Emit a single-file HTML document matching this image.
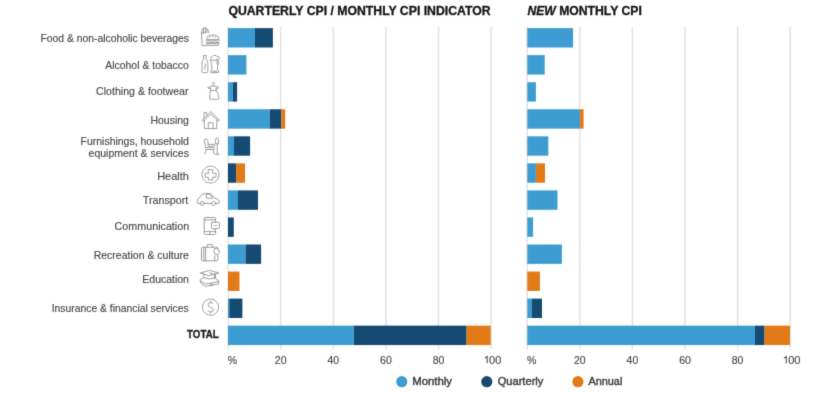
<!DOCTYPE html>
<html><head><meta charset="utf-8">
<style>
html,body{margin:0;padding:0;background:#fff;width:832px;height:393px;overflow:hidden}
svg{display:block}
text{font-family:"Liberation Sans",sans-serif}
.lab{font-size:11px;fill:#474747;stroke:#474747;stroke-width:0.15px;text-anchor:end}
.tick{font-size:10.5px;fill:#474747;stroke:#474747;stroke-width:0.15px}
.ttl{font-size:12.2px;font-weight:bold;fill:#141414;stroke:#141414;stroke-width:0.3px}
.leg{font-size:10px;font-weight:normal;fill:#3d3d3d;stroke:#3d3d3d;stroke-width:0.4px}
.ic{fill:none;stroke:#8e8e8e;stroke-width:0.85;stroke-linejoin:round;stroke-linecap:round}
</style></head><body>
<svg width="832" height="393" viewBox="0 0 832 393">
<defs><filter id="bl" x="0" y="0" width="832" height="393" filterUnits="userSpaceOnUse" color-interpolation-filters="sRGB"><feConvolveMatrix order="3" kernelMatrix="0.0144 0.0912 0.0144 0.0912 0.5776 0.0912 0.0144 0.0912 0.0144" edgeMode="duplicate"/></filter></defs>
<g filter="url(#bl)">
<rect width="832" height="393" fill="#fff"/>
<text x="228.41" y="14.9" class="ttl" textLength="262.18" lengthAdjust="spacingAndGlyphs">QUARTERLY CPI / MONTHLY CPI INDICATOR</text>
<text x="527.40" y="14.9" class="ttl" textLength="114.40" lengthAdjust="spacingAndGlyphs"><tspan font-style="italic">NEW</tspan> MONTHLY CPI</text>
<rect x="227.35" y="26.8" width="1.5" height="322.8" fill="#e2e2e2"/>
<rect x="279.95" y="26.8" width="1.5" height="322.8" fill="#e2e2e2"/>
<rect x="332.55" y="26.8" width="1.5" height="322.8" fill="#e2e2e2"/>
<rect x="385.15" y="26.8" width="1.5" height="322.8" fill="#e2e2e2"/>
<rect x="437.75" y="26.8" width="1.5" height="322.8" fill="#e2e2e2"/>
<rect x="490.35" y="26.8" width="1.5" height="322.8" fill="#e2e2e2"/>
<rect x="526.45" y="26.8" width="1.5" height="322.8" fill="#e2e2e2"/>
<rect x="579.05" y="26.8" width="1.5" height="322.8" fill="#e2e2e2"/>
<rect x="631.65" y="26.8" width="1.5" height="322.8" fill="#e2e2e2"/>
<rect x="684.25" y="26.8" width="1.5" height="322.8" fill="#e2e2e2"/>
<rect x="736.85" y="26.8" width="1.5" height="322.8" fill="#e2e2e2"/>
<rect x="789.45" y="26.8" width="1.5" height="322.8" fill="#e2e2e2"/>
<rect x="228.00" y="28.10" width="26.90" height="19.4" fill="#3d9cd2"/>
<rect x="254.90" y="28.10" width="18.00" height="19.4" fill="#154a72"/>
<rect x="527.30" y="28.10" width="45.80" height="19.4" fill="#3d9cd2"/>
<rect x="228.00" y="55.15" width="18.40" height="19.4" fill="#3d9cd2"/>
<rect x="527.30" y="55.15" width="17.40" height="19.4" fill="#3d9cd2"/>
<rect x="228.00" y="82.20" width="4.80" height="19.4" fill="#3d9cd2"/>
<rect x="232.80" y="82.20" width="4.30" height="19.4" fill="#154a72"/>
<rect x="527.30" y="82.20" width="8.60" height="19.4" fill="#3d9cd2"/>
<rect x="228.00" y="109.25" width="41.80" height="19.4" fill="#3d9cd2"/>
<rect x="269.80" y="109.25" width="11.50" height="19.4" fill="#154a72"/>
<rect x="281.30" y="109.25" width="3.90" height="19.4" fill="#e07b18"/>
<rect x="527.30" y="109.25" width="52.60" height="19.4" fill="#3d9cd2"/>
<rect x="579.90" y="109.25" width="3.70" height="19.4" fill="#e07b18"/>
<rect x="228.00" y="136.30" width="6.00" height="19.4" fill="#3d9cd2"/>
<rect x="234.00" y="136.30" width="16.10" height="19.4" fill="#154a72"/>
<rect x="527.30" y="136.30" width="21.00" height="19.4" fill="#3d9cd2"/>
<rect x="228.00" y="163.35" width="8.10" height="19.4" fill="#154a72"/>
<rect x="236.10" y="163.35" width="8.90" height="19.4" fill="#e07b18"/>
<rect x="527.30" y="163.35" width="8.60" height="19.4" fill="#3d9cd2"/>
<rect x="535.90" y="163.35" width="9.10" height="19.4" fill="#e07b18"/>
<rect x="228.00" y="190.40" width="10.00" height="19.4" fill="#3d9cd2"/>
<rect x="238.00" y="190.40" width="20.00" height="19.4" fill="#154a72"/>
<rect x="527.30" y="190.40" width="30.20" height="19.4" fill="#3d9cd2"/>
<rect x="228.00" y="217.45" width="5.80" height="19.4" fill="#154a72"/>
<rect x="527.30" y="217.45" width="5.80" height="19.4" fill="#3d9cd2"/>
<rect x="228.00" y="244.50" width="17.60" height="19.4" fill="#3d9cd2"/>
<rect x="245.60" y="244.50" width="15.50" height="19.4" fill="#154a72"/>
<rect x="527.30" y="244.50" width="34.60" height="19.4" fill="#3d9cd2"/>
<rect x="228.00" y="271.55" width="11.50" height="19.4" fill="#e07b18"/>
<rect x="527.30" y="271.55" width="12.60" height="19.4" fill="#e07b18"/>
<rect x="228.00" y="298.60" width="1.30" height="19.4" fill="#3d9cd2"/>
<rect x="229.30" y="298.60" width="13.10" height="19.4" fill="#154a72"/>
<rect x="527.30" y="298.60" width="4.70" height="19.4" fill="#3d9cd2"/>
<rect x="532.00" y="298.60" width="10.00" height="19.4" fill="#154a72"/>
<rect x="228.00" y="325.65" width="125.80" height="19.4" fill="#3d9cd2"/>
<rect x="353.80" y="325.65" width="112.80" height="19.4" fill="#154a72"/>
<rect x="466.60" y="325.65" width="24.10" height="19.4" fill="#e07b18"/>
<rect x="527.30" y="325.65" width="227.70" height="19.4" fill="#3d9cd2"/>
<rect x="755.00" y="325.65" width="9.60" height="19.4" fill="#154a72"/>
<rect x="764.60" y="325.65" width="25.40" height="19.4" fill="#e07b18"/>
<text x="188.90" y="42.42" class="lab" textLength="148.45" lengthAdjust="spacingAndGlyphs">Food &amp; non-alcoholic beverages</text>
<text x="188.82" y="68.75" class="lab" textLength="83.56" lengthAdjust="spacingAndGlyphs">Alcohol &amp; tobacco</text>
<text x="188.47" y="95.1" class="lab" textLength="92.36" lengthAdjust="spacingAndGlyphs">Clothing &amp; footwear</text>
<text x="188.89" y="124.3" class="lab" textLength="38.45" lengthAdjust="spacingAndGlyphs">Housing</text>
<text x="188.91" y="144.85" class="lab" textLength="108.39" lengthAdjust="spacingAndGlyphs">Furnishings, household</text>
<text x="188.90" y="156.6" class="lab" textLength="100.33" lengthAdjust="spacingAndGlyphs">equipment &amp; services</text>
<text x="188.97" y="179.85" class="lab" textLength="31.77" lengthAdjust="spacingAndGlyphs">Health</text>
<text x="188.29" y="203.75" class="lab" textLength="45.42" lengthAdjust="spacingAndGlyphs">Transport</text>
<text x="189.15" y="229.5" class="lab" textLength="74.53" lengthAdjust="spacingAndGlyphs">Communication</text>
<text x="188.91" y="259.1" class="lab" textLength="95.23" lengthAdjust="spacingAndGlyphs">Recreation &amp; culture</text>
<text x="188.96" y="283.2" class="lab" textLength="46.60" lengthAdjust="spacingAndGlyphs">Education</text>
<text x="188.57" y="311.95" class="lab" textLength="136.84" lengthAdjust="spacingAndGlyphs">Insurance &amp; financial services</text>
<text x="218.60" y="337.84999999999997" text-anchor="end" textLength="31.50" lengthAdjust="spacingAndGlyphs" style="font-size:10px;font-weight:bold;fill:#1c1c1c;stroke:#1c1c1c;stroke-width:0.35px">TOTAL</text>
<text x="227.80" y="363.5" class="tick" text-anchor="start">%</text>
<text x="280.70" y="363.5" class="tick" text-anchor="middle">20</text>
<text x="333.30" y="363.5" class="tick" text-anchor="middle">40</text>
<text x="385.90" y="363.5" class="tick" text-anchor="middle">60</text>
<text x="438.50" y="363.5" class="tick" text-anchor="middle">80</text>
<path d="M487.15,363.2 L487.15,356.6 L484.90,358.1" fill="none" stroke="#474747" stroke-width="1.05" stroke-linejoin="miter"/>
<text x="489.05" y="363.5" class="tick" textLength="12.3" lengthAdjust="spacingAndGlyphs">00</text>
<text x="526.90" y="363.5" class="tick" text-anchor="start">%</text>
<text x="579.80" y="363.5" class="tick" text-anchor="middle">20</text>
<text x="632.40" y="363.5" class="tick" text-anchor="middle">40</text>
<text x="685.00" y="363.5" class="tick" text-anchor="middle">60</text>
<text x="737.60" y="363.5" class="tick" text-anchor="middle">80</text>
<path d="M786.25,363.2 L786.25,356.6 L784.00,358.1" fill="none" stroke="#474747" stroke-width="1.05" stroke-linejoin="miter"/>
<text x="788.15" y="363.5" class="tick" textLength="12.3" lengthAdjust="spacingAndGlyphs">00</text>
<circle cx="401.8" cy="381.7" r="5.6" fill="#3d9cd2"/>
<text x="412.19" y="384.8" class="leg" textLength="39.79" lengthAdjust="spacingAndGlyphs">Monthly</text>
<circle cx="486.8" cy="381.7" r="5.6" fill="#154a72"/>
<text x="497.71" y="384.8" class="leg" textLength="45.64" lengthAdjust="spacingAndGlyphs">Quarterly</text>
<circle cx="577.9" cy="381.7" r="5.6" fill="#e07b18"/>
<text x="588.50" y="384.8" class="leg" textLength="33.80" lengthAdjust="spacingAndGlyphs">Annual</text>
<g class="ic">
<!-- food: fries + burger -->
<path d="M201.5,32.4 L202.1,45.6 L206.3,45.6"/>
<path d="M201.5,32.4 L203.6,33.4 L205.8,32.4"/>
<path d="M201.9,32.6 Q201.6,29.6 202.8,28.4 Q204.2,27.4 205.8,28 Q207.4,28.6 208.2,30.2 Q209,31.4 208.6,32.6"/>
<path d="M203.6,28.2 L203.6,33 M205.4,28.2 L205.6,32.6 M207.2,29.4 L206.8,32.6"/>
<path d="M206.6,39.2 Q206.6,34.9 212.8,34.9 Q219,34.9 219,39.2 Z"/>
<path d="M206.3,40.8 Q208,39.9 209.6,40.8 Q211.2,41.6 212.8,40.8 Q214.4,39.9 216,40.8 Q217.6,41.6 219.3,40.8"/>
<path d="M206.7,42.4 L218.9,42.4"/>
<path d="M206.8,43.6 L218.8,43.6 L218.8,44.4 Q218.8,45.4 217.8,45.4 L207.8,45.4 Q206.8,45.4 206.8,44.4 Z"/>
<path d="M209.4,37.2 L210.2,37 M212.4,36.5 L213.2,36.5 M215.2,37 L216,37.2"/>
<!-- alcohol: bottle + glass -->
<path d="M203.6,55.4 L206.1,55.4 L206.1,59.2 Q207.8,60.6 207.8,62.8 L207.8,71.6 Q207.8,72.6 206.8,72.6 L203,72.6 Q202,72.6 202,71.6 L202,62.8 Q202,60.6 203.6,59.2 Z"/>
<path d="M205.2,64 L205.4,66.2 L204.4,67.2 L205.2,69.4"/>
<path d="M210.6,58.4 Q210.6,56.6 212.4,56.6 Q213,55.2 214.8,55.4 Q216.6,55.4 216.9,56.4 Q219.3,56.2 219.3,58.2 Q219.3,59.4 218.4,59.8 L218.1,64.2 Q217.2,66.6 217.6,69.4 Q218.8,71.2 218.6,72.6 L210.9,72.6 Q210.7,71.2 211.8,69.4 Q212.4,66.6 211.4,64 Z"/>
<path d="M211.1,60.2 Q213,59.6 214.6,60.4 Q216.6,60.6 217,59.2 M217,59.2 L217,63.8 Q217.2,64.6 218.1,64.2"/>
<path d="M212.6,71.2 L216.8,71.2"/>
<!-- clothing: dress on hanger -->
<path d="M212.5,83.6 Q212.6,82.2 213.6,82.3 Q214.6,82.5 214.3,83.6 Q214,84.3 213.4,84.6 L213.4,85.8"/>
<path d="M208.2,87.2 L213.4,85.8 L218.8,87.2 L217.7,88.6 L216.2,87.9 L216.2,90.4 Q218.6,94 219,98.8 Q216.8,99.8 214,99.2 Q211.5,99.8 209.5,98.8 Q209.8,94 210.6,90.4 L210.6,87.9 L209.2,88.6 Z"/>
<path d="M210.6,90.4 L216.2,90.4"/>
<!-- housing -->
<path d="M202.2,120.2 L210.8,111.6 L219.4,120.2 L218.3,121.3 L210.8,113.9 L203.3,121.3 Z"/>
<path d="M204.3,120.3 L204.3,128.6 L216.8,128.6 L216.8,119.8"/>
<path d="M208.3,128.6 L208.3,122.7 L213,122.7 L213,128.6"/>
<path d="M204,118.4 L204,112.6 L206.8,112.6 L206.8,115.6"/>
<!-- furnishings: armchair + lamp -->
<path d="M205.8,147.6 L204.2,140.4 Q204.1,139.2 205.3,139.2 L206.3,139.2 Q207.5,139.2 207.7,140.6 L208.3,144.4"/>
<path d="M207.8,144.4 L214,144.4 Q214.8,144.4 214.8,145.3 Q214.8,146.2 214,146.2 L208,146.2"/>
<path d="M205.8,147.6 L213.8,147.6 Q214.8,147.8 214.6,148.7 Q214.4,149.5 213.6,149.5 L206.1,149.5"/>
<path d="M206.1,149.5 L204.9,153.8 M213.2,149.7 L214.1,153.8"/>
<path d="M215.4,143.4 L215.8,138.9 Q216,138 217.1,138 Q218.1,138 218.3,138.9 L218.8,143.4 Z"/>
<path d="M217.2,143.4 L217.2,154.2 M215.4,154.3 L219.2,154.3"/>
<!-- health -->
<path d="M210.5,166.1 A8.5,8.5 0 1,1 210.49,166.1 Z" style="stroke-linecap:butt"/>
<path style="stroke-linejoin:miter" d="M208.4,169.6 L212.7,169.6 L212.7,173.2 L216,173.2 L216,177.2 L212.7,177.2 L212.7,180 L208.4,180 L208.4,177.2 L205.1,177.2 L205.1,173.2 L208.4,173.2 Z"/>
<!-- transport: car -->
<path d="M200.4,203.5 L197.6,203.5 Q197.2,203.5 197.2,203 L197.2,200.4 Q197.2,199 198.8,198.6 Q201,194.6 203.6,193.9 Q207,193.3 210.2,193.6 Q212,194.2 214.4,198.2 L217.4,199 Q219.1,199.6 219.1,201.4 L219.1,203 Q219.1,203.5 218.6,203.5 L215.7,203.5"/>
<path d="M204.3,203.5 L211.8,203.5"/>
<circle cx="202.3" cy="203.4" r="1.9"/>
<circle cx="213.7" cy="203.4" r="1.9"/>
<path d="M206.3,194.6 L206.3,198.2 L212.6,198.2 Q211.4,195.4 210,194.5 Z"/>
<!-- communication -->
<path d="M205.4,217.5 L214.4,217.5 Q215.6,217.5 215.6,218.7 L215.6,222 M215.6,229.4 L215.6,233.3 Q215.6,234.5 214.4,234.5 L205.4,234.5 Q204.2,234.5 204.2,233.3 L204.2,218.7 Q204.2,217.5 205.4,217.5"/>
<path d="M204.2,219.9 L215.6,219.9 M204.2,231.6 L215.6,231.6 M209.9,231.6 L209.9,234.5"/>
<path d="M212.4,222.3 L218.4,222.3 Q219.4,222.3 219.4,223.3 L219.4,227.4 Q219.4,228.4 218.4,228.4 L214.8,228.4 L213.8,229.8 L213.6,228.4 L212.4,228.4 Q211.4,228.4 211.4,227.4 L211.4,223.3 Q211.4,222.3 212.4,222.3 Z"/>
<path d="M213.8,225.4 L213.9,225.4 M215.4,225.4 L215.5,225.4 M217,225.4 L217.1,225.4" style="stroke-width:1"/>
<!-- recreation: suitcase -->
<path d="M214.6,247.2 L202.4,247.2 Q201.5,247.2 201.5,248.1 L201.5,259.9 Q201.5,260.8 202.4,260.8 L216.9,260.8 Q217.8,260.8 217.8,259.9 L217.8,255.4 M217.8,249.4 L217.8,248.1 Q217.8,247.2 216.9,247.2 L216.4,247.2"/>
<path d="M207.4,247.2 L207.4,245.2 Q207.4,244.5 208.1,244.5 L211.8,244.5 Q212.5,244.5 212.5,245.2 L212.5,247.2"/>
<path d="M203.8,247.2 L203.8,260.8 M205.6,247.2 L205.6,260.8 M214.8,255.8 L214.8,260.8 M214.8,247.2 L214.8,249"/>
<path d="M215.6,248.4 L217.2,248.2 L219.6,252 L217.4,254.8 L215,254.2 L213.8,251 Z"/>
<!-- education: mortarboard + books -->
<path d="M200.4,273 L209.6,270.4 L218.8,273 L209.6,275.6 Z"/>
<path d="M203.8,274 L203.8,277.6 Q209.6,280.2 215.4,277.6 L215.4,274"/>
<path d="M209.6,273 L214.6,274.4 L214.6,278.8"/>
<path d="M203.4,278.2 L201.2,278.8 Q200,279.2 200.2,280.6 L200.8,283.2 L205.6,286.4 L218.6,283.8 L218.6,280.6 L215.8,278.8"/>
<path d="M200.8,281.2 L205.6,284 L218.6,281.6"/>
<circle cx="211.4" cy="284.7" r="1.2"/>
<!-- insurance -->
<path d="M210.5,299.1 A8.1,8.1 0 1,1 210.49,299.1 Z" style="stroke-linecap:butt"/>
<path d="M213.2,303.8 Q212.4,302.6 210.6,302.6 Q208,302.6 208,304.8 Q208,306.6 210.6,307.2 Q213.3,307.8 213.3,309.8 Q213.3,312 210.6,312 Q208.6,312 207.8,310.6 M210.6,301.2 L210.6,302.6 M210.6,312 L210.6,313.2"/>
</g>

</g>
</svg>
</body></html>
